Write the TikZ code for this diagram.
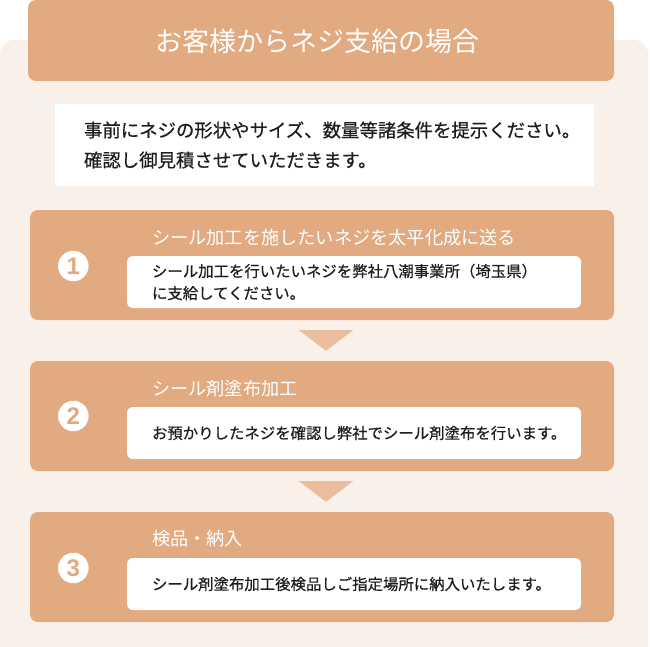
\documentclass[tikz,border=0pt]{standalone}
\usepackage{fontspec}
\setmainfont{Noto Sans CJK JP}
\newfontfamily\medfont{Noto Sans CJK JP}[FakeBold=0.5]
\newfontfamily\numfont{Liberation Sans}
\usetikzlibrary{calc}
\definecolor{orangebox}{RGB}{226,170,128}
\definecolor{panelbg}{RGB}{249,240,234}
\definecolor{tricol}{RGB}{234,190,156}
\definecolor{txt}{RGB}{30,30,30}
\tikzset{
  titlebox/.style={fill=orangebox, rounded corners=8pt, minimum width=586pt, minimum height=81pt, inner sep=0pt},
  titletext/.style={text=white, font=\fontsize{27}{30}\selectfont, inner sep=0pt},
  introbox/.style={fill=white, minimum width=539pt, minimum height=82pt, inner sep=0pt},
  stepbox/.style={fill=orangebox, rounded corners=8pt, minimum width=584pt, minimum height=110pt, inner sep=0pt},
  innerbox/.style={fill=white, rounded corners=6pt, minimum width=454pt, minimum height=52pt, inner sep=0pt},
  numcircle/.style={circle, fill=white, minimum size=30.5pt, inner sep=0pt, text=orangebox, font=\numfont\bfseries\fontsize{24}{24}\selectfont},
  headtext/.style={anchor=west, text=white, font=\fontsize{18.2}{20}\selectfont, inner sep=0pt},
  bodytext/.style={anchor=west, text=txt, align=left, font=\medfont\fontsize{15.4}{22}\selectfont, inner sep=0pt},
  introtext/.style={anchor=west, text=txt, align=left, font=\medfont\fontsize{18.4}{30}\selectfont, inner sep=0pt},
  downtri/.style={fill=tricol}
}
\begin{document}
\begin{tikzpicture}[x=1pt,y=-1pt]
\useasboundingbox (0,0) rectangle (650,647);
\begin{scope}
\clip (0,0) rectangle (650,647);
\fill[panelbg, rounded corners=14pt] (0,40) rectangle (648,680);
\end{scope}

\node[titlebox] (title) at (321,40.5) {};
\node[titletext] (titlet) at ($(title.center)+(-4,1)$) {お客様からネジ支給の場合};

\fill[black!5] (53,102) rectangle (596,188);
\node[introbox] (intro) at (324.5,145) {};
\node[introtext] (introt) at ($(intro.west)+(29,0)$) {事前にネジの形状やサイズ、数量等諸条件を提示ください。\\確認し御見積させていただきます。};

% step 1
\node[stepbox] (s1) at (322,265) {};
\node[numcircle] (n1) at ($(s1.west)+(43.5,1)$) {1};
\node[headtext] (h1) at ($(s1.west)+(122,-27)$) {シール加工を施したいネジを太平化成に送る};
\node[innerbox] (b1) at ($(s1.center)+(32,17)$) {};
\node[bodytext] (t1) at ($(b1.west)+(25,0)$) {シール加工を行いたいネジを弊社八潮事業所（埼玉県）\\に支給してください。};

% step 2
\node[stepbox] (s2) at (322,416) {};
\node[numcircle] (n2) at ($(s2.west)+(43.5,0)$) {2};
\node[headtext] (h2) at ($(s2.west)+(122,-27)$) {シール剤塗布加工};
\node[innerbox] (b2) at ($(s2.center)+(32,17)$) {};
\node[bodytext] (t2) at ($(b2.west)+(25,0)$) {お預かりしたネジを確認し弊社でシール剤塗布を行います。};

% step 3
\node[stepbox] (s3) at (322,567) {};
\node[numcircle] (n3) at ($(s3.west)+(43.5,1)$) {3};
\node[headtext] (h3) at ($(s3.west)+(122,-28)$) {検品・納入};
\node[innerbox] (b3) at ($(s3.center)+(32,17)$) {};
\node[bodytext] (t3) at ($(b3.west)+(25,0)$) {シール剤塗布加工後検品しご指定場所に納入いたします。};

% arrows
\fill[downtri] ($(s1.south)+(-23,10)$) -- ($(s1.south)+(31,10)$) -- ($(s2.north)+(4,-10)$) -- cycle;
\fill[downtri] ($(s2.south)+(-23,10)$) -- ($(s2.south)+(31,10)$) -- ($(s3.north)+(4,-10)$) -- cycle;
\end{tikzpicture}
\end{document}
